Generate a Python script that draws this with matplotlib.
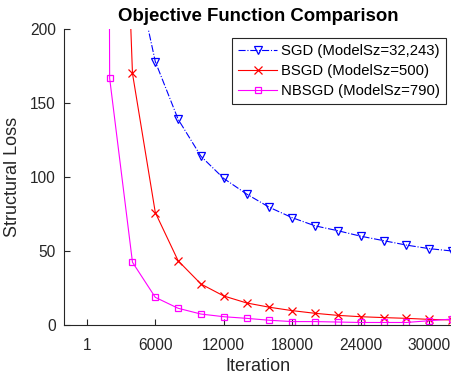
import numpy as np
import matplotlib
matplotlib.use("Agg")
import matplotlib.pyplot as plt

plt.rcParams['font.family'] = ['Liberation Sans', 'DejaVu Sans']

# iterations where the losses were recorded
iterations = [1, 2000, 4000, 6000, 8000, 10000, 12000, 14000, 16000,
              18000, 20000, 22000, 24000, 26000, 28000, 30000, 32000]

# structural loss per method (first values are off the top of the plot)
sgd_loss = [3000, 500, 249, 178, 139, 114, 99, 88.5, 79.5,
            72.5, 67, 63.7, 60, 57, 54, 51.6, 50]
bsgd_loss = [3000, 590, 170, 76, 43.4, 27.7, 19.6, 14.9, 12,
             9.7, 7.9, 6.5, 5.6, 5, 4.5, 3.8, 3.4]
nbsgd_loss = [5000, 166.7, 42.4, 18.7, 11.3, 7.4, 5.6, 4.5, 3.2,
              2.3, 2.3, 2.0, 1.7, 1.7, 1.7, 2.9, 4.0]

labels = ['SGD (ModelSz=32,243)', 'BSGD (ModelSz=500)', 'NBSGD (ModelSz=790)']
xticks = [1, 6000, 12000, 18000, 24000, 30000]
yticks = [0, 50, 100, 150, 200]

gray = '#262626'

fig = plt.figure(figsize=(4.52, 3.74), dpi=100)
ax = fig.add_axes([64/452, 49/374, 388/452, 296/374])

ax.plot(iterations, sgd_loss, '-.', color='#0000ff', marker='v', mfc='none',
        ms=6.2, mew=0.9, lw=0.8, label=labels[0])
ax.plot(iterations, bsgd_loss, '-', color='#ff0000', marker='x',
        ms=6, mew=0.9, lw=0.8, label=labels[1])
ax.plot(iterations, nbsgd_loss, '-', color='#ff00ff', marker='s', mfc='none',
        ms=5, mew=0.9, lw=0.8, label=labels[2])

ax.set_xlim(-2000, 32000)
ax.set_ylim(0, 200)
ax.set_xticks(xticks)
ax.set_xticklabels([str(t) for t in xticks])
ax.set_yticks(yticks)

for side in ['top', 'right']:
    ax.spines[side].set_visible(False)
for side in ['left', 'bottom']:
    ax.spines[side].set_color(gray)
    ax.spines[side].set_linewidth(0.8)
ax.tick_params(direction='in', length=4, width=0.8, colors=gray,
               labelsize=11.2, labelcolor=gray)
ax.tick_params(axis='x', pad=9)
ax.tick_params(axis='y', pad=6)

ax.set_xlabel('Iteration', fontsize=13, color=gray, labelpad=4)
ax.set_ylabel('Structural Loss', fontsize=13, color=gray, labelpad=6)
ax.set_title('Objective Function Comparison', fontsize=13.4,
             fontweight='bold', pad=6)

leg = ax.legend(loc='upper right', bbox_to_anchor=(0.985, 0.97),
                borderaxespad=0, fontsize=10.7, handlelength=2.6,
                handletextpad=0.3, borderpad=0.4, labelspacing=0.42,
                fancybox=False, framealpha=1, edgecolor=gray)
leg.get_frame().set_linewidth(0.8)

fig.savefig('out.png', dpi=100)
